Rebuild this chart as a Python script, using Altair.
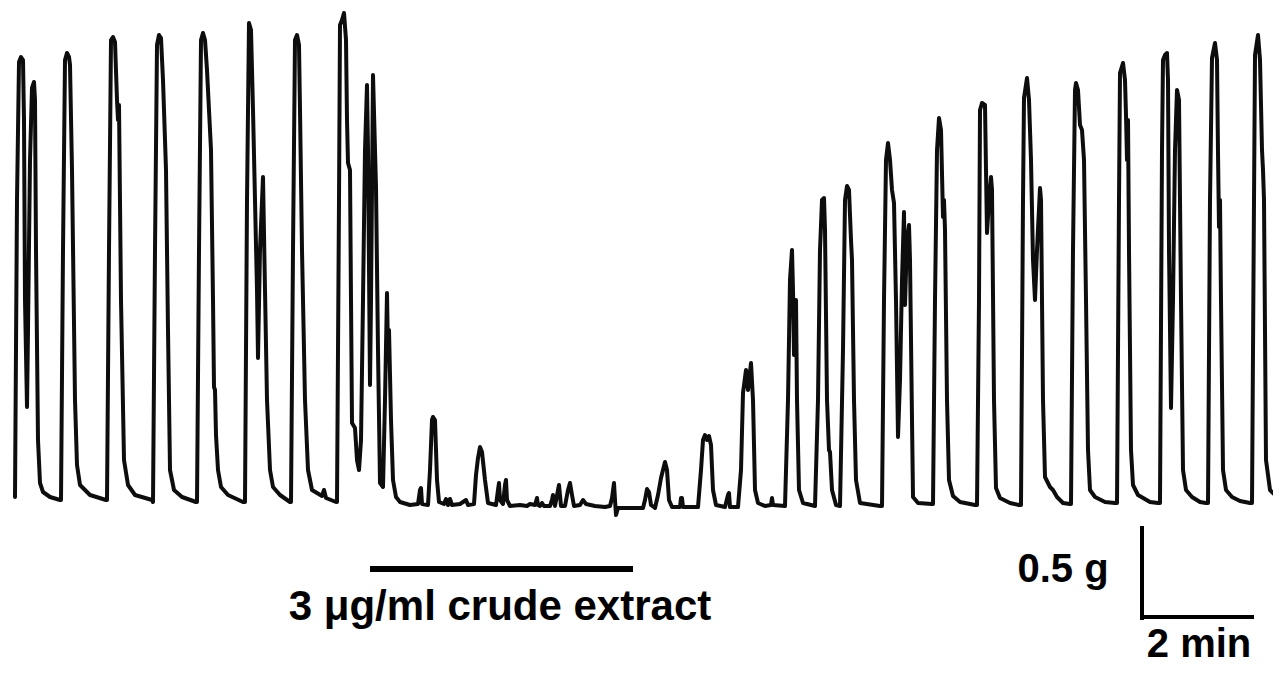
import altair as alt
import pandas as pd

# Isometric tension trace (time and tension in arbitrary recorder units)
trace_time = [
    15, 17, 19, 21, 23, 24, 25, 27, 28, 30, 32, 34, 35, 36, 38, 40, 43, 50, 60,
    61, 63, 65, 67, 69, 70, 72, 75, 77, 80, 90, 106,
    107, 109, 111, 113, 115, 117, 118, 119, 121, 124, 128, 135, 152,
    153, 155, 157, 159, 161, 163, 166, 168, 170, 174, 182, 196,
    197, 199, 201, 203, 205, 207, 209, 211, 213, 214, 215, 216, 218, 221, 228, 243,
    245, 247, 249, 251, 253, 255, 257, 258, 260, 263, 265, 267, 270, 273, 280, 290,
    291, 293, 295, 297, 299, 300, 302, 305, 308, 312, 322, 324, 326, 336,
    337, 339, 340, 342, 344, 346, 347, 348, 350, 351, 352, 355, 357, 359, 361, 363,
    365, 367, 368, 370, 371, 373, 375, 376, 378, 380, 383, 385, 387, 388, 389, 391,
    393, 396, 400, 410, 418, 420, 421, 422, 428, 430, 432, 433, 435, 437, 439, 444,
    446, 448, 450, 452, 460, 466, 468, 474, 476, 478, 480, 482, 485, 488, 496, 498,
    499, 500, 503, 505, 506, 507, 510, 520, 527, 530, 535, 537, 538, 540, 542, 544,
    550, 552, 553, 555, 558, 559, 561, 565, 568, 570, 572, 574, 580, 583, 586, 595,
    605, 610, 612, 614, 615, 616, 618, 630, 643, 645, 647, 649, 651, 655, 658, 661,
    663, 665, 667, 669, 672, 680, 681, 682, 683, 690, 698, 701, 703, 705, 707, 709,
    711, 713, 716, 725, 728, 729, 730, 738, 741, 743, 746, 748, 751, 753, 755, 758,
    765, 771, 772, 773, 785,
    788, 790, 792, 793, 794, 795, 796, 797, 799, 803, 815,
    818, 820, 822, 824, 825, 827, 829, 830, 832, 836, 840,
    843, 845, 847, 849, 851, 852, 854, 856, 860, 880,
    882, 884, 886, 888, 890, 892, 894, 896, 898, 900, 902, 904, 905, 907, 909, 910,
    912, 913, 918, 932,
    933, 935, 937, 939, 941, 943, 944, 945, 947, 949, 953, 960, 975,
    977, 979, 980, 982, 985, 986, 987, 989, 991, 992, 994, 996, 1000, 1010, 1019,
    1021, 1023, 1024, 1027, 1029, 1031, 1032, 1033, 1035, 1037, 1040, 1041, 1043,
    1045, 1050, 1053, 1057, 1063, 1070,
    1071, 1073, 1075, 1076, 1078, 1080, 1082, 1084, 1086, 1088, 1090, 1095, 1105, 1115,
    1117, 1119, 1120, 1123, 1125, 1126, 1127, 1128, 1129, 1131, 1133, 1138, 1150, 1158,
    1160, 1162, 1163, 1165, 1167, 1168, 1169, 1171, 1173, 1175, 1177, 1179, 1181, 1183,
    1186, 1192, 1200, 1206,
    1208, 1210, 1212, 1215, 1217, 1218, 1219, 1220, 1221, 1223, 1226, 1232, 1240, 1250,
    1252, 1254, 1255, 1258, 1260, 1262, 1263, 1264, 1266, 1270, 1273, 1281,
]
trace_tension = [
    13, 310, 448, 453, 450, 390, 210, 103, 180, 350, 422, 428, 410, 260, 70, 27, 18, 13, 10,
    10, 260, 450, 457, 453, 445, 340, 110, 45, 25, 15, 10,
    10, 260, 470, 473, 468, 410, 390, 405, 210, 50, 25, 15, 10,
    8, 260, 465, 475, 472, 430, 340, 180, 40, 20, 13, 8,
    8, 260, 470, 477, 470, 440, 400, 360, 210, 123, 120, 75, 40, 23, 15, 8,
    8, 310, 487, 480, 400, 310, 220, 152, 260, 333, 220, 110, 40, 23, 15, 8,
    8, 260, 470, 475, 465, 400, 260, 110, 40, 20, 14, 20, 12, 8,
    8, 310, 485, 490, 497, 470, 390, 347, 340, 210, 87, 82, 50, 40, 70, 210,
    360, 425, 360, 125, 210, 435, 360, 323, 160, 27, 23, 110, 217, 157, 180, 90,
    30, 13, 8, 5, 6, 20, 22, 6, 5, 40, 90, 93, 90, 30, 8, 6,
    11, 5, 11, 5, 6, 10, 5, 6, 35, 52, 63, 58, 30, 7, 5, 20,
    27, 10, 6, 25, 30, 10, 4, 5, 4, 6, 5, 12, 5, 4, 7, 4,
    4, 10, 15, 4, 20, 25, 4, 4, 20, 27, 15, 4, 5, 10, 6, 4,
    3, 4, 12, 27, 10, -5, 2, 2, 2, 10, 21, 18, 5, 2, 15, 32,
    40, 48, 40, 10, 3, 3, 12, 12, 3, 3, 3, 40, 70, 75, 70, 74,
    65, 20, 5, 3, 15, 17, 3, 3, 40, 117, 140, 120, 147, 110, 20, 7,
    4, 5, 12, 5, 4,
    110, 230, 260, 220, 155, 210, 210, 110, 20, 7, 4,
    110, 260, 310, 312, 280, 110, 60, 58, 20, 5, 4,
    160, 310, 324, 320, 270, 250, 110, 30, 7, 4,
    4, 210, 350, 367, 350, 320, 307, 210, 73, 130, 230, 298, 205, 270, 285, 250,
    90, 13, 7, 6,
    6, 210, 360, 392, 380, 293, 310, 280, 110, 30, 14, 8, 5,
    5, 210, 400, 407, 405, 340, 277, 310, 333, 320, 110, 22, 12, 7, 5,
    5, 310, 412, 432, 410, 350, 300, 250, 210, 260, 322, 310, 110,
    33, 23, 20, 13, 7, 6,
    6, 260, 420, 427, 420, 385, 380, 350, 210, 60, 20, 13, 8, 7,
    7, 310, 437, 447, 430, 395, 350, 390, 260, 60, 25, 15, 8, 7,
    7, 360, 450, 455, 457, 430, 260, 102, 210, 360, 420, 410, 210, 40,
    20, 13, 8, 7,
    7, 310, 452, 467, 450, 357, 283, 310, 210, 40, 20, 13, 9, 7,
    7, 310, 455, 475, 450, 360, 340, 310, 50, 20, 17, 10,
]

# Drug application bar and its label
drug_label = ["3 \u03bcg/ml crude extract"]
drug_start, drug_end, drug_level = [370], [633], [-59]
drug_label_pos = [500]
drug_label_level = [-110]

# Calibration bars: 0.5 g (vertical) and 2 min (horizontal)
cal_x = [1142, 1142]
cal_x2 = [1142, 1252]
cal_y = [-18, -107]
cal_y2 = [-108, -107]
cal_text = ["0.5 g", "2 min"]
cal_text_x = [1063, 1199]
cal_text_y = [-72, -147]

trace = pd.DataFrame({"t": trace_time, "f": trace_tension, "i": list(range(len(trace_time)))})
drug = pd.DataFrame({"t": drug_start, "t2": drug_end, "f": drug_level})
drug_txt = pd.DataFrame({"t": drug_label_pos, "f": drug_label_level, "label": drug_label})
cal = pd.DataFrame({"t": cal_x, "t2": cal_x2, "f": cal_y, "f2": cal_y2})
cal_txt = pd.DataFrame({"t": cal_text_x, "f": cal_text_y, "label": cal_text})

xs = alt.Scale(domain=[8, 1273], nice=False, zero=False)
ys = alt.Scale(domain=[-156, 502], nice=False, zero=False)
X = lambda f="t": alt.X(f"{f}:Q", scale=xs, axis=None)
Y = lambda f="f": alt.Y(f"{f}:Q", scale=ys, axis=None)

line = alt.Chart(trace).mark_line(color="#0d0d0d", strokeWidth=4, strokeJoin="round", strokeCap="round", clip=True).encode(
    x=X(), y=Y(), order="i:Q"
)
drug_bar = alt.Chart(drug).mark_rule(color="#000000", strokeWidth=6).encode(
    x=X(), x2="t2:Q", y=Y()
)
drug_text = alt.Chart(drug_txt).mark_text(
    font="Liberation Sans", fontWeight="bold", fontSize=42, align="center", baseline="alphabetic", color="#000000"
).encode(x=X(), y=Y(), text="label:N")
cal_bars = alt.Chart(cal).mark_rule(color="#000000", strokeWidth=4, strokeCap="square").encode(
    x=X(), x2="t2:Q", y=Y(), y2="f2:Q"
)
cal_labels = alt.Chart(cal_txt).mark_text(
    font="Liberation Sans", fontWeight="bold", fontSize=40, align="center", baseline="alphabetic", color="#000000"
).encode(x=X(), y=Y(), text="label:N")

chart = alt.layer(line, drug_bar, drug_text, cal_bars, cal_labels).properties(
    width=1265, height=658, padding=0, autosize=alt.AutoSizeParams(type="none")
).configure_view(stroke=None)

chart.save("out.html", embed_options={"renderer": "svg", "actions": False})
